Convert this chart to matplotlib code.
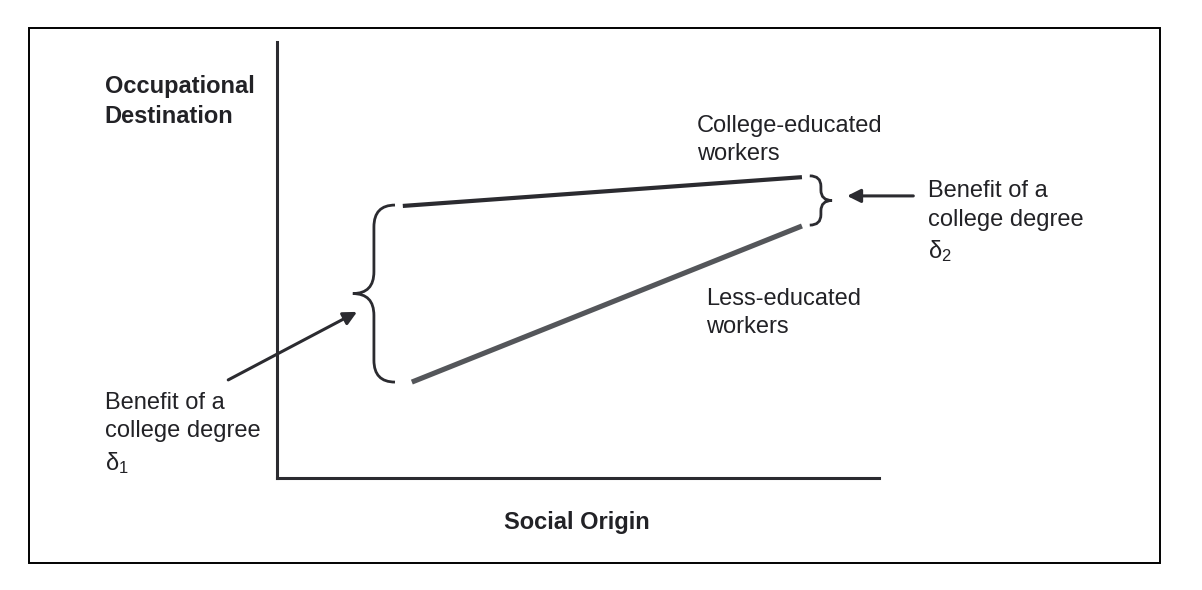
#
# -*- coding: utf-8 -*-
#

"""
Benefit of a college degree by social origin (schematic)
"""

import matplotlib
matplotlib.use("Agg")
import matplotlib.pyplot as plt
from matplotlib.path import Path
from matplotlib.patches import PathPatch, Rectangle

plt.rcParams['font.family'] = ['Liberation Sans', 'DejaVu Sans']
plt.rcParams['mathtext.default'] = 'regular'

# schematic lines (social origin -> occupational destination), axis units 0..10
college_x = [2.09, 8.72]
college_y = [6.24, 6.90]
less_x = [2.24, 8.72]
less_y = [2.20, 5.78]

# braces: (x of ends, x of tip, top, bottom, curl)
brace_left = (1.96, 1.26, 6.26, 2.20, 0.50)
brace_right = (8.85, 9.22, 6.93, 5.80, 0.24)

dark = '#2b2b30'
grey = '#54565a'


def brace(ax, x_end, x_tip, top, bottom, r, **kw):
    """Curly brace, ends at x_end, pointing towards x_tip"""
    x_sp = (x_end + x_tip) / 2
    mid = (top + bottom) / 2
    verts = [(x_end, top), (x_sp, top), (x_sp, top - r),
             (x_sp, mid + r),
             (x_sp, mid), (x_tip, mid),
             (x_sp, mid), (x_sp, mid - r),
             (x_sp, bottom + r),
             (x_sp, bottom), (x_end, bottom)]
    codes = [Path.MOVETO, Path.CURVE3, Path.CURVE3,
             Path.LINETO,
             Path.CURVE3, Path.CURVE3,
             Path.CURVE3, Path.CURVE3,
             Path.LINETO,
             Path.CURVE3, Path.CURVE3]
    ax.add_patch(PathPatch(Path(verts, codes), fill=False, clip_on=False, **kw))


fig = plt.figure(figsize=(12.02, 5.90), dpi=100)

# outer frame
fig.patches.append(Rectangle((29/1202, 27/590), 1131/1202, 535/590,
                             transform=fig.transFigure, fill=False,
                             edgecolor='black', linewidth=1.4))

ax = fig.add_axes([277/1202, 112/590, 602/1202, 436/590])
ax.set_xlim(0, 10)
ax.set_ylim(0, 10)
ax.set_xticks([])
ax.set_yticks([])
ax.spines['top'].set_visible(False)
ax.spines['right'].set_visible(False)
for s in ('left', 'bottom'):
    ax.spines[s].set_linewidth(2.2)
    ax.spines[s].set_color(dark)
ax.patch.set_visible(False)

# lines
ax.plot(college_x, college_y, color=dark, linewidth=3.0, solid_capstyle='butt')
ax.plot(less_x, less_y, color=grey, linewidth=3.7, solid_capstyle='butt')

# braces
brace(ax, *brace_left, color=dark, linewidth=2.0)
brace(ax, *brace_right, color=dark, linewidth=2.0)

# arrows
arrow_fmt = dict(arrowstyle='-|>', color=dark, lw=2.2, mutation_scale=20,
                 shrinkA=0, shrinkB=0)
ax.annotate('', xy=(1.33, 3.81), xytext=(-0.81, 2.25),
            arrowprops=arrow_fmt, annotation_clip=False)
ax.annotate('', xy=(9.47, 6.47), xytext=(10.57, 6.47),
            arrowprops=arrow_fmt, annotation_clip=False)

# texts
fs = 17
ls = 1.38
txt = '#222226'
ax.text(-2.86, 8.64, 'Occupational\nDestination', fontsize=fs, fontweight='bold',
        ha='left', va='center', color=txt, linespacing=ls, clip_on=False)
ax.text(4.98, -1.01, 'Social Origin', fontsize=fs, fontweight='bold',
        ha='center', va='center', color=txt, clip_on=False)
ax.text(6.98, 7.75, 'College-educated\nworkers', fontsize=fs,
        ha='left', va='center', color=txt, linespacing=ls)
ax.text(7.13, 3.78, 'Less-educated\nworkers', fontsize=fs,
        ha='left', va='center', color=txt, linespacing=ls)
ax.text(-2.86, 1.01, 'Benefit of a\ncollege degree\nδ$_1$', fontsize=fs,
        ha='left', va='center', color=txt, linespacing=ls, clip_on=False)
ax.text(10.81, 5.87, 'Benefit of a\ncollege degree\nδ$_2$', fontsize=fs,
        ha='left', va='center', color=txt, linespacing=ls, clip_on=False)

fig.savefig('out.png', dpi=100)
